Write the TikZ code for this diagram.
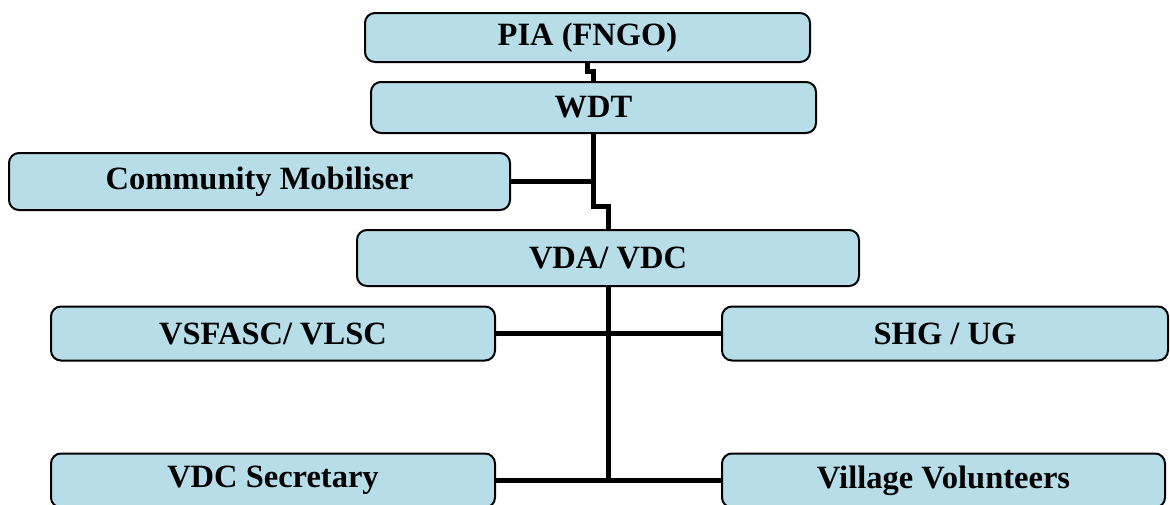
\documentclass[tikz,border=0pt]{standalone}
\usepackage{fontspec}
\setmainfont{Liberation Serif}
\usepackage{tikz}

\definecolor{boxblue}{RGB}{183,222,232}

\tikzset{
  orgbox/.style={draw=black, line width=2pt, fill=boxblue, rounded corners=10pt,
    inner sep=0pt, font=\fontsize{32.5}{38}\selectfont\bfseries},
  link/.style={line width=5pt}
}

\begin{document}
\begin{tikzpicture}[x=1pt,y=-1pt]
    \useasboundingbox (0,0) rectangle (1170,504);
    \node[orgbox, minimum width=445pt, minimum height=49pt] (pia) at (587.5,37.5) {PIA (FNGO)};
    \node[orgbox, minimum width=445pt, minimum height=51pt] (wdt) at (593.5,107.5) {WDT};
    \node[orgbox, minimum width=501pt, minimum height=57pt] (cm) at (259.5,181.5) {Community Mobiliser};
    \node[orgbox, minimum width=502pt, minimum height=56pt] (vda) at (608,258) {VDA/ VDC};
    \node[orgbox, minimum width=444pt, minimum height=54pt] (vsfasc) at (273,333.5) {VSFASC/ VLSC};
    \node[orgbox, minimum width=446pt, minimum height=54pt] (shg) at (945,333.5) {SHG / UG};
    \node[orgbox, minimum width=444pt, minimum height=54pt] (vdcsec) at (273,480.5) {VDC Secretary};
    \node[orgbox, minimum width=443pt, minimum height=54pt] (vv) at (943.5,480.5) {Village Volunteers};

    \draw[link] (pia.south) -- ++(0,8) -| (wdt.north);
    \draw[link] (wdt.south) -- ++(0,72) -| (vda.north);
    \draw[link] (cm.east) -- (cm.east -| wdt.south);
    \draw[link] (vda.south) -- (vda.south |- vdcsec.east);
    \draw[link] (vsfasc.east) -- (shg.west);
    \draw[link] (vdcsec.east) -- (vv.west);
\end{tikzpicture}
\end{document}
